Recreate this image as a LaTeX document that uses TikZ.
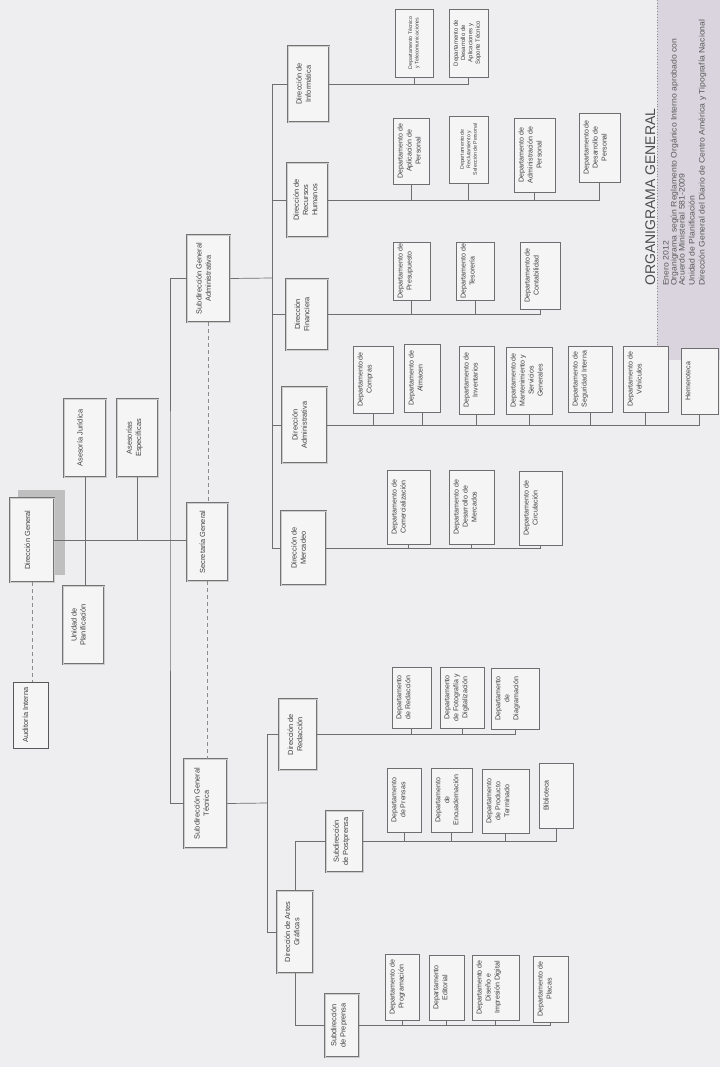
\documentclass[tikz,border=0pt]{standalone}
\usepackage{fontspec}
\setmainfont{Liberation Sans}
\newfontfamily\infofont[FakeStretch=1.08]{Liberation Sans}
\definecolor{bg}{HTML}{EEEDF0}
\definecolor{boxfill}{HTML}{F5F5F6}
\definecolor{ln}{HTML}{6E6E70}
\definecolor{txt}{HTML}{404042}
\definecolor{panel}{HTML}{D9D4DE}
\tikzset{
  orgbase/.style={rotate=90, fill=boxfill, text=txt, inner sep=1pt,
    font=\fontsize{7.4}{9.2}\selectfont},
  dept/.style={orgbase, draw=ln, line width=0.6pt, font=\fontsize{7.05}{9}\selectfont},
  audit/.style={orgbase, draw=black!65, line width=0.9pt},
  dirbox/.style={orgbase, draw=black!55, double=black!20, double distance=0.8pt, line width=0.8pt},
  conn/.style={draw=ln, line width=0.7pt},
  dashconn/.style={draw=ln!80, line width=0.7pt, dash pattern=on 4pt off 3pt},
  info/.style={rotate=90, anchor=base west, inner sep=0pt, text=black!65,
    font=\infofont\fontsize{8}{9}\selectfont},
  tiny/.style={font=\fontsize{5.2}{6.4}\selectfont},
  small/.style={font=\fontsize{6}{7.3}\selectfont}
}
% [shift], style, name, x1, y1, x2, y2, text : text centred, moved toward the box's left side by half the shift
\newcommand\cbox[8][0pt]{%
  \pgfmathsetmacro\obcx{(#4+#6)/2}%
  \pgfmathsetmacro\obcy{(#5+#7)/2}%
  \pgfmathsetmacro\obw{#7-#5}%
  \pgfmathsetmacro\obh{#6-#4}%
  \node[#2, minimum width=\obw pt, minimum height=\obh pt] (#3) at (\obcx,\obcy)
    {\makebox[\dimexpr\obw pt-2pt\relax]{\parbox[c][\dimexpr\obh pt-4pt\relax][c]{\dimexpr\obw pt+8pt\relax}{\centering #8\par\vspace{#1}}}};}
% style, name, x1, y1, x2, y2, text : text at the top of the turned box
\newcommand\tbox[7]{%
  \pgfmathsetmacro\obcx{(#3+#5)/2}%
  \pgfmathsetmacro\obcy{(#4+#6)/2}%
  \pgfmathsetmacro\obw{#6-#4}%
  \pgfmathsetmacro\obh{#5-#3}%
  \node[#1, minimum width=\obw pt, minimum height=\obh pt] (#2) at (\obcx,\obcy)
    {\makebox[\dimexpr\obw pt-2pt\relax]{\parbox[c][\dimexpr\obh pt-9pt\relax][t]{\dimexpr\obw pt+8pt\relax}{\centering #7}}};}
\begin{document}
\begin{tikzpicture}[x=1pt, y=-1pt]
\fill[bg] (0,0) rectangle (720,1067);
\useasboundingbox (0,0) rectangle (720,1067);

% title panel
\fill[panel] (657,0) rectangle (720,360);
\draw[black!45, line width=0.8pt, dotted] (657,0) -- (657,362);
\node[info, text=black!70, font=\fontsize{14}{16}\selectfont] (title) at (655,286) {ORGANIGRAMA GENERAL};
\node[info] (l1) at (668.5,286) {Enero 2012};
\node[info] (l2) at (676.5,286) {Organigrama según Reglamento Orgánico Interno aprobado con};
\node[info] (l3) at (684.5,286) {Acuerdo Ministerial 581-2009};
\node[info] (l4) at (694.5,286) {Unidad de Planificación};
\node[info] (l5) at (704.5,286) {Dirección General del Diario de Centro América y Tipografía Nacional};

% shadow of Dirección General
\fill[black!25] (18,490) rectangle (65,575);

% top level
\cbox[9pt]{dirbox}{dg}{10}{498}{54}{582}{Dirección General}
\cbox[10pt]{dirbox}{sg}{187}{503}{228}{581}{Secretaría General}
\cbox[10pt]{dirbox}{aj}{64}{399}{106}{477}{Asesoría Jurídica}
\cbox[6pt]{dirbox}{ae}{117}{399}{158}{477}{Asesorías\\Específicas}
\cbox[10pt]{dirbox}{up}{63}{586}{104}{664}{Unidad de\\Planificación}
\cbox[10pt]{audit}{ai}{13}{682}{48}{748}{Auditoría Interna}
\cbox[10pt]{dirbox}{sga}{187}{235}{230}{322}{Subdirección General\\Administrativa}
\cbox[8pt]{dirbox}{sgt}{184}{759}{227}{848}{Subdirección General\\Técnica}

% direcciones
\cbox[10pt]{dirbox}{dinf}{288}{46}{329}{122}{Dirección de\\Informática}
\cbox[4pt]{dirbox}{drh}{287}{163}{328}{237}{Dirección de\\Recursos\\Humanos}
\cbox[10pt]{dirbox}{dfin}{286}{279}{328}{350}{Dirección\\Financiera}
\cbox[10pt]{dirbox}{dadm}{282}{387}{327}{463}{Dirección\\Administrativa}
\cbox[10pt]{dirbox}{dmer}{281}{511}{326}{585}{Dirección de\\Mercadeo}
\cbox[6pt]{dirbox}{dred}{279}{699}{317}{770}{Dirección de\\Redacción}
\cbox[6pt]{dirbox}{dag}{277}{891}{313}{973}{Dirección de Artes\\Gráficas}
\cbox[6pt]{dirbox}{spost}{326}{811}{363}{872}{Subdirección\\de Postprensa}
\cbox[6pt]{dirbox}{spre}{325}{994}{359}{1057}{Subdirección\\de Preprensa}

% departamentos
\cbox{dept,tiny}{tel}{395}{9}{433}{77}{Departamento Técnico\\y Telecomunicaciones}
\tbox{dept,small}{das}{449}{9}{488}{77}{Departamento de\\Desarrollo de\\Aplicaciones y\\Soporte Técnico}
\tbox{dept}{apl}{393}{118}{429}{184}{Departamento de\\Aplicación de\\Personal}
\cbox{dept,tiny}{rec}{449}{116}{488}{183}{Departamento de\\Reclutamiento y\\Selección de Personal}
\tbox{dept}{adp}{514}{118}{555}{192}{Departamento de\\Administración de\\Personal}
\tbox{dept}{dep}{579}{113}{620}{182}{Departamento de\\Desarrollo de\\Personal}
\tbox{dept}{pre}{393}{242}{430}{300}{Departamento de\\Presupuesto}
\tbox{dept}{tes}{456}{242}{494}{300}{Departamento de\\Tesorería}
\tbox{dept}{con}{520}{242}{560}{309}{Departamento de\\Contabilidad}
\tbox{dept}{com}{353}{346}{393}{413}{Departamento de\\Compras}
\tbox{dept}{alm}{404}{344}{440}{412}{Departamento de\\Almacen}
\tbox{dept}{inv}{459}{346}{494}{414}{Departamento de\\Inventarios}
\tbox{dept}{man}{506}{347}{552}{414}{Departamento de\\Mantenimiento y\\Servicios\\Generales}
\tbox{dept}{seg}{568}{346}{612}{412}{Departamento de\\Seguridad Interna}
\tbox{dept}{veh}{623}{346}{668}{412}{Departamento de\\Vehículos}
\tbox{dept}{hem}{681}{348}{718}{414}{Hemeroteca}
\tbox{dept}{cml}{387}{470}{430}{544}{Departamento de\\Comercialización}
\tbox{dept}{dme}{449}{470}{494}{544}{Departamento de\\Desarrollo de\\Mercados}
\tbox{dept}{cir}{519}{471}{562}{545}{Departamento de\\Circulación}
\tbox{dept}{red}{392}{667}{431}{728}{Departamento\\de Redacción}
\tbox{dept}{fot}{440}{667}{484}{728}{Departamento\\de Fotografía y\\Digitalización}
\tbox{dept}{dia}{491}{668}{539}{729}{Departamento\\de\\Diagramación}
\tbox{dept}{prn}{387}{768}{421}{832}{Departamento\\de Prensas}
\tbox{dept}{enc}{431}{768}{472}{832}{Departamento\\de\\Encuadernación}
\tbox{dept}{pto}{482}{769}{529}{833}{Departamento\\de Producto\\Terminado}
\tbox{dept}{bib}{539}{763}{573}{828}{Biblioteca}
\tbox{dept}{prg}{385}{954}{419}{1020}{Departamento de\\Programación}
\tbox{dept}{edi}{429}{955}{464}{1020}{Departamento\\Editorial}
\tbox{dept}{dis}{472}{955}{519}{1020}{Departamento de\\Diseño e\\Impresión Digital}
\tbox{dept}{pla}{533}{956}{568}{1022}{Departamento de\\Placas}

% coordinates of spines
\coordinate (spine) at (170,541);
\coordinate (adm) at (272,278);
\coordinate (tec) at (267,803);

% top level connectors
\draw[conn] (dg.south) -- (dg.south -| sg.north);
\draw[conn] (aj.west) -- (aj.west |- up.east);
\draw[conn] (ae.west) -- (ae.west |- dg.south);
\draw[conn] (sga.north) -| (spine) |- (sgt.north);
\draw[dashconn] (dg.west) -- (dg.west |- ai.east);
\draw[dashconn] (sga.west) -- (sga.west |- sg.east);
\draw[dashconn] (sg.west) -- (sg.west |- sgt.east);

% administrative branch
\draw[conn] (sga.south) -- (adm);
\draw[conn] (adm |- dinf.north) -- (adm |- dmer.north);
\foreach \d in {dinf,drh,dfin,dadm,dmer}
  \draw[conn] (adm |- \d.north) -- (\d.north);

% technical branch
\draw[conn] (sgt.south) -- (tec);
\draw[conn] (tec |- dred.north) -- (tec |- dag.north);
\foreach \d in {dred,dag}
  \draw[conn] (tec |- \d.north) -- (\d.north);
\draw[conn] (dag.east) |- (spost.north);
\draw[conn] (dag.west) |- (spre.north);

% buses to departments
\draw[conn] (dinf.south) -- (dinf.south -| das.west);
\foreach \c in {tel,das} \draw[conn] (\c.west) -- (\c.west |- dinf.south);
\draw[conn] (drh.south) -- (drh.south -| dep.west);
\foreach \c in {apl,rec,adp,dep} \draw[conn] (\c.west) -- (\c.west |- drh.south);
\draw[conn] (dfin.south) -- (dfin.south -| con.west);
\foreach \c in {pre,tes,con} \draw[conn] (\c.west) -- (\c.west |- dfin.south);
\draw[conn] (dadm.south) -- (dadm.south -| hem.west);
\foreach \c in {com,alm,inv,man,seg,veh,hem} \draw[conn] (\c.west) -- (\c.west |- dadm.south);
\draw[conn] (dmer.south) -- (dmer.south -| cir.west);
\foreach \c in {cml,dme,cir} \draw[conn] (\c.west) -- (\c.west |- dmer.south);
\draw[conn] (dred.south) -- (dred.south -| dia.west);
\foreach \c in {red,fot,dia} \draw[conn] (\c.west) -- (\c.west |- dred.south);
\draw[conn] (spost.south) -- (spost.south -| bib.west);
\foreach \c in {prn,enc,pto,bib} \draw[conn] (\c.west) -- (\c.west |- spost.south);
\draw[conn] (spre.south) -- (spre.south -| pla.west);
\foreach \c in {prg,edi,dis,pla} \draw[conn] (\c.west) -- (\c.west |- spre.south);
\end{tikzpicture}
\end{document}
